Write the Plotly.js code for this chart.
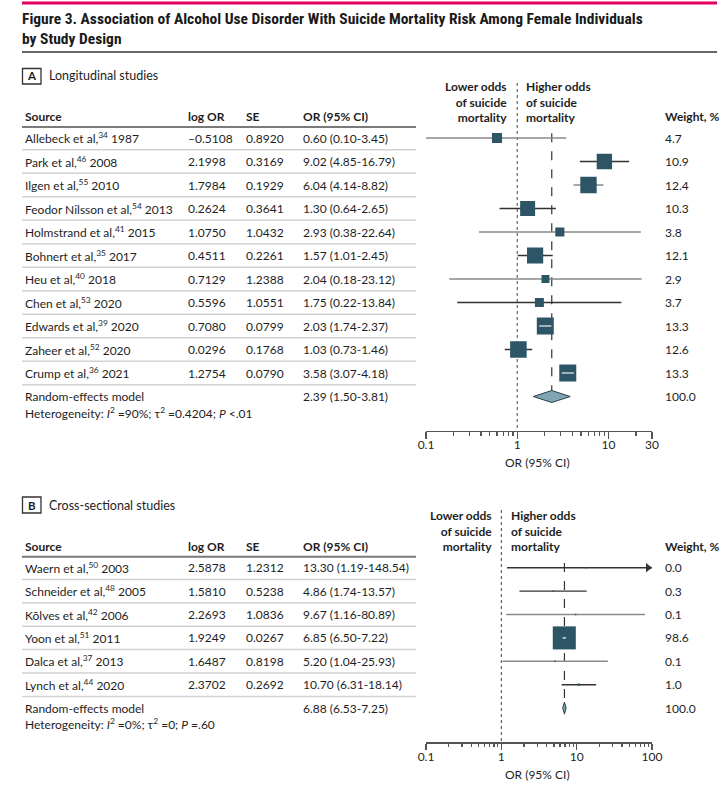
<!DOCTYPE html>
<html><head><meta charset="utf-8">
<script src="https://cdn.plot.ly/plotly-3.0.1.min.js"></script>
<style>html,body{margin:0;padding:0;background:#fff}</style>
</head><body><div id="chart" style="width:728px;height:792px"></div>
<script>
// ---------- Panel A: longitudinal studies ----------
const sourcesA = ["Allebeck et al","Park et al","Ilgen et al","Feodor Nilsson et al","Holmstrand et al","Bohnert et al","Heu et al","Chen et al","Edwards et al","Zaheer et al","Crump et al"];
const refsA = [34,46,55,54,41,35,40,53,39,52,36];
const yearsA = [1987,2008,2010,2013,2015,2017,2018,2020,2020,2020,2021];
const logOrA = [-0.5108,2.1998,1.7984,0.2624,1.0750,0.4511,0.7129,0.5596,0.7080,0.0296,1.2754];
const seA = [0.8920,0.3169,0.1929,0.3641,1.0432,0.2261,1.2388,1.0551,0.0799,0.1768,0.0790];
const orA = [0.60,9.02,6.04,1.30,2.93,1.57,2.04,1.75,2.03,1.03,3.58];
const lowA = [0.10,4.85,4.14,0.64,0.38,1.01,0.18,0.22,1.74,0.73,3.07];
const highA = [3.45,16.79,8.82,2.65,22.64,2.45,23.12,13.84,2.37,1.46,4.18];
const weightA = [4.7,10.9,12.4,10.3,3.8,12.1,2.9,3.7,13.3,12.6,13.3];
const pooledA = [2.39,1.50,3.81];   // OR, low, high
const pooledWeightA = 100.0;
const hetA = "Heterogeneity: <i>I</i><sup>2</sup> =90%; τ<sup>2</sup> =0.4204; <i>P</i> <.01";
const tickValsA = [0.1,1,10,30];
const tickTextA = ["0.1","1","10","30"];

// ---------- Panel B: cross-sectional studies ----------
const sourcesB = ["Waern et al","Schneider et al","Kõlves et al","Yoon et al","Dalca et al","Lynch et al"];
const refsB = [50,48,42,51,37,44];
const yearsB = [2003,2005,2006,2011,2013,2020];
const logOrB = [2.5878,1.5810,2.2693,1.9249,1.6487,2.3702];
const seB = [1.2312,0.5238,1.0836,0.0267,0.8198,0.2692];
const orB = [13.30,4.86,9.67,6.85,5.20,10.70];
const lowB = [1.19,1.74,1.16,6.50,1.04,6.31];
const highB = [148.54,13.57,80.89,7.22,25.93,18.14];
const weightB = [0.0,0.3,0.1,98.6,0.1,1.0];
const pooledB = [6.88,6.53,7.25];
const pooledWeightB = 100.0;
const hetB = "Heterogeneity: <i>I</i><sup>2</sup> =0%; τ<sup>2</sup> =0; <i>P</i> =.60";
const tickValsB = [0.1,1,10,100];
const tickTextB = ["0.1","1","10","100"];

// ---------- styling ----------
const W = 728, H = 792;
const FONT = "Lato, 'Noto Sans', sans-serif";
const TITLEFONT = "'Liberation Sans Narrow', 'Roboto Condensed', Roboto, sans-serif";
const TXT = "#1e1e1e";
const SQ = "#2d5566";
const DIA = "#80a6b5";
const ciToneA = ["#8a8a8a","#333","#8a8a8a","#333","#8a8a8a","#333","#8a8a8a","#333","#333","#333","#333"];
const ciToneB = ["#333","#333","#8a8a8a","#333","#8a8a8a","#333"];
const px = x => x / W;
const py = y => 1 - y / H;

// panel geometry (pixels)
const P = {
  A: {xl:426, xr:652, top:60, axis:430.5, row0:138, step:23.5, xmax:Math.log10(30), k:4.66, lower:102, lowR:508, highL:525, tag:76, boxT:68.5, boxB:84, dotTop:83},
  B: {xl:426, xr:652, top:490, axis:742, row0:567.7, step:23.4, xmax:2, k:2.32, lower:531, lowR:493, highL:510, tag:505, boxT:497, boxB:513, dotTop:510}
};
const rowsToRange = g => [(g.axis - g.row0)/g.step, (g.top - g.row0)/g.step];

const traces = [];
const shapes = [];
const annotations = [];
const FS = 12;

function ann(text, x, y, yref, opts) {
  annotations.push(Object.assign({text, x, y, xref:'paper', yref, showarrow:false,
    xanchor:'left', yanchor:'middle', font:{family:FONT, size:FS, color:TXT}}, opts||{}));
}

function minorTicks(maxExp, maxVal) {
  const v = [];
  for (let e = -1; e < maxExp; e++) for (let m = 2; m <= 9; m++) {
    const t = m * Math.pow(10, e);
    if (t < maxVal) v.push(t);
  }
  return v;
}

function panel(key, xa, ya, d) {
  const g = P[key];
  const n = d.sources.length;
  const yref = ya;
  const axisX = xa;
  const pxPerDec = (g.xr - g.xl) / (g.xmax + 1);

  // tag box and heading
  shapes.push({type:'rect', xref:'paper', yref:'paper', x0:px(22.5), x1:px(41), y0:py(g.boxB), y1:py(g.boxT),
    line:{color:'#333', width:1.3}, fillcolor:'rgba(0,0,0,0)'});
  ann("<b>"+key+"</b>", px(31.7), py(g.tag), 'paper', {xanchor:'center', font:{family:FONT,size:11.5,color:TXT}});
  ann(d.heading, px(47), py(g.tag), 'paper', {font:{family:FONT,size:12.5,color:TXT}});

  // column headers
  const hy = -0.9;
  ann("<b>Source</b>", px(22.5), hy, yref);
  ann("<b>log OR</b>", px(186), hy, yref);
  ann("<b>SE</b>", px(244), hy, yref);
  ann("<b>OR (95% CI)</b>", px(301), hy, yref);
  ann("<b>Weight, %</b>", px(663), hy, yref);
  ann("<b>Lower odds<br>of suicide<br>mortality</b>", px(g.lowR + 1), py(g.lower), 'paper', {xanchor:'right', align:'right'});
  ann("<b>Higher odds<br>of suicide<br>mortality</b>", px(g.highL - 1), py(g.lower), 'paper', {xanchor:'left', align:'left'});

  // header underline + row separators
  shapes.push({type:'line', xref:'paper', yref, x0:px(22), x1:px(416), y0:-0.47, y1:-0.47, line:{color:'#7a7a7a', width:2}});
  for (let i = 0; i < n; i++) {
    shapes.push({type:'line', xref:'paper', yref, x0:px(22), x1:px(416), y0:i+0.5, y1:i+0.5, line:{color:'#d2d2d2', width:1.5}});
  }

  // table rows
  for (let i = 0; i < n; i++) {
    ann(d.sources[i] + ",<sup>" + d.refs[i] + "</sup> " + d.years[i], px(22.5), i, yref);
    ann(d.logOr[i].toFixed(4).replace('-', '–'), px(186), i, yref);
    ann(d.se[i].toFixed(4), px(244), i, yref);
    ann(d.or[i].toFixed(2) + " (" + d.low[i].toFixed(2) + "-" + d.high[i].toFixed(2) + ")", px(301), i, yref);
    ann(d.weight[i].toFixed(1), px(663), i, yref);
  }
  ann("Random-effects model", px(22.5), n, yref);
  ann(d.pooled[0].toFixed(2) + " (" + d.pooled[1].toFixed(2) + "-" + d.pooled[2].toFixed(2) + ")", px(301), n, yref);
  ann(d.pooledWeight.toFixed(1), px(663), n, yref);
  ann(d.het, px(22.5), n + 0.7, yref);

  // reference lines
  const [rb, rt] = rowsToRange(g);
  shapes.push({type:'line', xref:axisX, yref, x0:1, x1:1, y0:(g.dotTop - g.row0)/g.step, y1:rb,
    line:{color:'#444', width:1, dash:'dot'}, layer:'below'});
  shapes.push({type:'line', xref:axisX, yref, x0:d.pooled[0], x1:d.pooled[0], y0:-0.2, y1:n - 0.25,
    line:{color:'#333', width:1.2, dash:'dash'}, layer:'below'});

  // CI lines grouped by tone
  const tones = [...new Set(d.tone)];
  const xmaxVal = Math.pow(10, g.xmax);
  tones.forEach(c => {
    const xs = [], ys = [];
    for (let i = 0; i < n; i++) if (d.tone[i] === c) {
      xs.push(d.low[i], Math.min(d.high[i], xmaxVal), null); ys.push(i, i, null);
    }
    traces.push({type:'scatter', mode:'lines', x:xs, y:ys, xaxis:xa, yaxis:ya, line:{color:c, width:1.4},
      hoverinfo:'skip', showlegend:false, opacity:1});
  });
  // arrows for CIs beyond the axis
  const ax = [], ay = [];
  for (let i = 0; i < n; i++) if (d.high[i] > xmaxVal) { ax.push(xmaxVal * Math.pow(10, -4 / pxPerDec)); ay.push(i); }
  if (ax.length) traces.push({type:'scatter', mode:'markers', x:ax, y:ay, xaxis:xa, yaxis:ya,
    marker:{symbol:'triangle-right', size:8, color:'#333', opacity:1}, hoverinfo:'skip', showlegend:false});

  // squares sized by weight
  traces.push({type:'scatter', mode:'markers', x:d.or, y:d.sources.map((_, i) => i), xaxis:xa, yaxis:ya, opacity:1,
    marker:{symbol:'square', color:SQ, opacity:1, size:d.weight.map(w => Math.max(1.5, g.k * Math.sqrt(w))), line:{width:0, color:SQ}},
    hoverinfo:'skip', showlegend:false});

  // CIs that fit inside their square are shown as a light line on top
  const ix = [], iy = [];
  for (let i = 0; i < n; i++) {
    const widthPx = (Math.log10(d.high[i]) - Math.log10(d.low[i])) * pxPerDec;
    if (widthPx < g.k * Math.sqrt(d.weight[i]) - 2) { ix.push(d.low[i], d.high[i], null); iy.push(i, i, null); }
  }
  if (ix.length) traces.push({type:'scatter', mode:'lines', x:ix, y:iy, xaxis:xa, yaxis:ya,
    line:{color:'#c9d3d7', width:1.6}, hoverinfo:'skip', showlegend:false});

  // pooled diamond
  const h = 6 / g.step;
  traces.push({type:'scatter', mode:'lines', fill:'toself', fillcolor:DIA,
    x:[d.pooled[1], d.pooled[0], d.pooled[2], d.pooled[0], d.pooled[1]],
    y:[n, n - h, n, n + h, n], xaxis:xa, yaxis:ya, line:{color:'#2a3f48', width:1},
    hoverinfo:'skip', showlegend:false});

  // axis title
  ann("OR (95% CI)", px((g.xl + g.xr) / 2 - 2), py(g.axis + 32), 'paper', {xanchor:'center'});

  return {
    x: {type:'log', domain:[px(g.xl), px(g.xr)], range:[-1, g.xmax], anchor:ya, tickmode:'array',
      tickvals:d.tickVals, ticktext:d.tickText, ticks:'outside', ticklen:6.5, tickwidth:1.3, tickcolor:'#555',
      ticklabelstandoff:-4,
      showline:true, linecolor:'#555', linewidth:1.6, showgrid:false, zeroline:false,
      tickfont:{family:FONT, size:12, color:TXT}, fixedrange:true,
      minor:{tickmode:'array', tickvals:minorTicks(Math.ceil(g.xmax), Math.pow(10, g.xmax)), ticks:'outside', ticklen:3.5, tickwidth:1.2, tickcolor:'#555', showgrid:false}},
    y: {domain:[py(g.axis), py(g.top)], range:[rb, rt], visible:false, fixedrange:true}
  };
}

const axA = panel('A', 'x', 'y', {sources:sourcesA, refs:refsA, years:yearsA, logOr:logOrA, se:seA, or:orA, low:lowA,
  high:highA, weight:weightA, pooled:pooledA, pooledWeight:pooledWeightA, het:hetA, tone:ciToneA,
  tickVals:tickValsA, tickText:tickTextA, heading:"Longitudinal studies"});
const axB = panel('B', 'x2', 'y2', {sources:sourcesB, refs:refsB, years:yearsB, logOr:logOrB, se:seB, or:orB, low:lowB,
  high:highB, weight:weightB, pooled:pooledB, pooledWeight:pooledWeightB, het:hetB, tone:ciToneB,
  tickVals:tickValsB, tickText:tickTextB, heading:"Cross-sectional studies"});

// figure title, top bar and rule
shapes.push({type:'rect', xref:'paper', yref:'paper', x0:px(22), x1:px(717), y0:py(4.5), y1:py(1.5), fillcolor:'#e4005e', line:{width:0}});
shapes.push({type:'line', xref:'paper', yref:'paper', x0:px(22), x1:px(717), y0:py(52), y1:py(52), line:{color:'#333', width:1.5}});
annotations.push({text:"<b>Figure 3. Association of Alcohol Use Disorder With Suicide Mortality Risk Among Female Individuals<br>by Study Design</b>",
  xref:'paper', yref:'paper', x:px(20), y:py(28.5), xanchor:'left', yanchor:'middle', align:'left', showarrow:false,
  font:{family:TITLEFONT, size:15.5, color:'#1a1a1a'}});

const layout = {
  width:W, height:H, margin:{l:0, r:0, t:0, b:0}, paper_bgcolor:'#fff', plot_bgcolor:'rgba(0,0,0,0)',
  showlegend:false, xaxis:axA.x, yaxis:axA.y, xaxis2:axB.x, yaxis2:axB.y,
  shapes, annotations
};
Plotly.newPlot('chart', traces, layout, {displayModeBar:false, staticPlot:true});
</script></body></html>
